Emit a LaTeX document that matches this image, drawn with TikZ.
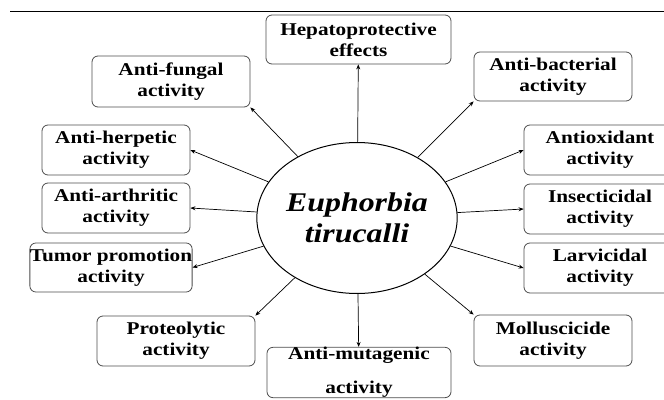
\documentclass[tikz,border=0pt]{standalone}
\usepackage{fontspec}
\setmainfont{Liberation Serif}
\newfontfamily\boxfont[FakeStretch=1.18]{Liberation Serif}
\usetikzlibrary{shapes.geometric, arrows.meta}

\begin{document}
\begin{tikzpicture}[
    x=1pt, y=-1pt,
    effect/.style={rectangle, draw=black!70, line width=0.8pt, rounded corners=6pt, align=center, inner sep=0pt,
        font=\boxfont\bfseries\fontsize{18}{21}\selectfont},
    plant/.style={ellipse, draw, line width=1pt, minimum width=170pt, minimum height=151pt, align=center, inner sep=0pt,
        font=\boxfont\bfseries\itshape\fontsize{27}{31}\selectfont},
    arrow/.style={-{Stealth[length=5pt,width=4pt]}, line width=0.7pt}
]
\useasboundingbox (0,0) rectangle (664,399);
\clip (0,0) rectangle (664,399);

% rule at the top
\draw[line width=0.8pt] (10,11) -- (664,11);

% centre
\node[plant] (tc) at (357,218) {Euphorbia\\tirucalli};

% effects, left side
\node[effect, minimum width=158pt, minimum height=51pt] (fungal) at (171,81.5) {Anti-fungal\\activity};
\node[effect, minimum width=148pt, minimum height=50pt] (herp) at (116,150) {Anti-herpetic\\activity};
\node[effect, minimum width=148pt, minimum height=50pt] (arth) at (116,208) {Anti-arthritic\\activity};
\node[effect, minimum width=158pt, minimum height=49pt] (tumor) at (111,267.5) {Tumor promotion\\activity};
\node[effect, minimum width=158pt, minimum height=50pt] (prot) at (176,341) {Proteolytic\\activity};

% effects, top and bottom
\node[effect, minimum width=185pt, minimum height=49pt] (hep) at (358.5,39.5) {Hepatoprotective\\effects};
\node[effect, minimum width=184pt, minimum height=49pt, font=\boxfont\bfseries\fontsize{18}{34}\selectfont] (mut) at (359,372.5) {Anti-mutagenic\\activity};

% effects, right side
\node[effect, minimum width=158pt, minimum height=49pt] (bact) at (553,76.5) {Anti-bacterial\\activity};
\node[effect, minimum width=152pt, minimum height=50pt] (antiox) at (600,150) {Antioxidant\\activity};
\node[effect, minimum width=152pt, minimum height=50pt] (insect) at (600,209) {Insecticidal\\activity};
\node[effect, minimum width=152pt, minimum height=50pt] (larv) at (600,268) {Larvicidal\\activity};
\node[effect, minimum width=158pt, minimum height=51pt] (moll) at (553,340.5) {Molluscicide\\activity};

% connectors
\draw[arrow] (tc) -- (hep);
\draw[arrow] (tc) -- (fungal.south east);
\draw[arrow] (tc) -- (bact.south west);
\draw[arrow] (tc) -- (herp.east);
\draw[arrow] (tc) -- (antiox.west);
\draw[arrow] (tc) -- (arth.east);
\draw[arrow] (tc) -- (insect.west);
\draw[arrow] (tc) -- (tumor.east);
\draw[arrow] (tc) -- (larv.west);
\draw[arrow] (tc) -- (prot.north east);
\draw[arrow] (tc) -- (mut);
\draw[arrow] (tc) -- (moll.north west);

\end{tikzpicture}
\end{document}
